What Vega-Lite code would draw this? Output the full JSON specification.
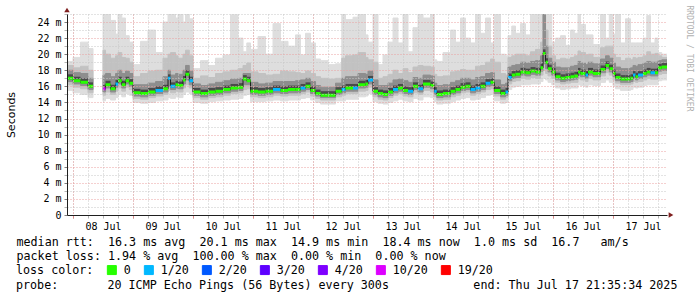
{
  "$schema": "https://vega.github.io/schema/vega-lite/v6.json",
  "width": 600,
  "height": 201,
  "autosize": {"type": "none"},
  "padding": {"left": 67, "top": 14, "right": 30, "bottom": 82},
  "background": "white",
  "config": {"view": {"stroke": null}, "font": "DejaVu Sans Mono"},
  "title": {
    "text": "probe:\u00a0\u00a0\u00a0\u00a0\u00a0\u00a0\u00a020\u00a0ICMP\u00a0Echo\u00a0Pings\u00a0(56\u00a0Bytes)\u00a0every\u00a0300s\u00a0\u00a0\u00a0\u00a0\u00a0\u00a0\u00a0\u00a0\u00a0\u00a0\u00a0\u00a0end:\u00a0Thu\u00a0Jul\u00a017\u00a021:35:34\u00a02025",
    "orient": "bottom", "anchor": "start", "frame": "group", "dx": -51, "offset": 3,
    "font": "DejaVu Sans Mono", "fontSize": 11.7, "fontWeight": "normal", "color": "black", "baseline": "top"
  },
  "data": {"values": [
{"t":"2025-07-07T21:00","t2":"2025-07-08T00:00","s":"a","L":"0","m":17.0,"lo":15.5,"l2":16.2,"l3":16.6,"u3":18.0,"u2":18.6,"hi":19.1},
{"t":"2025-07-08T00:00","t2":"2025-07-08T03:00","s":"a","L":"0","m":16.7,"lo":15.2,"l2":15.9,"l3":16.3,"u3":17.7,"u2":18.3,"hi":19.6},
{"t":"2025-07-08T03:00","t2":"2025-07-08T06:00","s":"a","L":"0","m":16.5,"lo":15.0,"l2":15.7,"l3":16.1,"u3":17.6,"u2":18.5,"hi":21.5},
{"t":"2025-07-08T06:00","t2":"2025-07-08T08:00","s":"a","L":"0","m":16.0,"lo":14.6,"l2":15.2,"l3":15.6,"u3":17.0,"u2":18.0,"hi":20.7},
{"t":"2025-07-08T12:00","t2":"2025-07-08T13:00","s":"b","L":"10/20","m":15.7,"lo":14.2,"l2":14.9,"l3":15.3,"u3":17.4,"u2":20.5,"hi":25},
{"t":"2025-07-08T13:00","t2":"2025-07-08T15:00","s":"b","L":"0","m":16.2,"lo":14.5,"l2":15.3,"l3":15.8,"u3":17.6,"u2":20.0,"hi":25},
{"t":"2025-07-08T15:00","t2":"2025-07-08T17:00","s":"b","L":"0","m":15.7,"lo":14.3,"l2":15.0,"l3":15.3,"u3":17.2,"u2":19.5,"hi":24.2},
{"t":"2025-07-08T17:00","t2":"2025-07-08T18:00","s":"b","L":"1/20","m":16.3,"lo":14.6,"l2":15.4,"l3":15.9,"u3":17.6,"u2":19.8,"hi":22.5},
{"t":"2025-07-08T18:00","t2":"2025-07-08T19:30","s":"b","L":"0","m":16.7,"lo":15.0,"l2":15.8,"l3":16.3,"u3":18.0,"u2":20.2,"hi":25},
{"t":"2025-07-08T19:30","t2":"2025-07-08T21:00","s":"b","L":"0","m":16.2,"lo":14.7,"l2":15.4,"l3":15.8,"u3":17.6,"u2":19.6,"hi":24.5},
{"t":"2025-07-08T21:00","t2":"2025-07-08T22:30","s":"b","L":"0","m":16.7,"lo":15.1,"l2":15.9,"l3":16.3,"u3":17.9,"u2":19.5,"hi":22.3},
{"t":"2025-07-08T22:30","t2":"2025-07-09T00:00","s":"b","L":"0","m":16.4,"lo":14.9,"l2":15.6,"l3":16.0,"u3":17.6,"u2":19.0,"hi":21.5},
{"t":"2025-07-09T00:00","t2":"2025-07-09T03:00","s":"b","L":"0","m":15.2,"lo":14.0,"l2":14.5,"l3":14.8,"u3":16.2,"u2":17.2,"hi":18.7},
{"t":"2025-07-09T03:00","t2":"2025-07-09T06:00","s":"b","L":"0","m":15.1,"lo":13.9,"l2":14.4,"l3":14.7,"u3":16.2,"u2":17.6,"hi":21.6},
{"t":"2025-07-09T06:00","t2":"2025-07-09T09:00","s":"b","L":"0","m":15.3,"lo":14.0,"l2":14.6,"l3":14.9,"u3":16.4,"u2":17.9,"hi":23.0},
{"t":"2025-07-09T09:00","t2":"2025-07-09T12:00","s":"b","L":"1/20","m":15.5,"lo":14.2,"l2":14.8,"l3":15.1,"u3":16.6,"u2":18.0,"hi":20.2},
{"t":"2025-07-09T12:00","t2":"2025-07-09T14:00","s":"b","L":"0","m":15.7,"lo":14.3,"l2":15.0,"l3":15.3,"u3":17.2,"u2":19.5,"hi":24.0},
{"t":"2025-07-09T14:00","t2":"2025-07-09T15:00","s":"b","L":"1/20","m":17.0,"lo":14.6,"l2":15.5,"l3":16.0,"u3":18.0,"u2":20.0,"hi":25},
{"t":"2025-07-09T15:00","t2":"2025-07-09T17:00","s":"b","L":"1/20","m":16.0,"lo":14.5,"l2":15.2,"l3":15.6,"u3":17.4,"u2":20.2,"hi":25},
{"t":"2025-07-09T17:00","t2":"2025-07-09T18:00","s":"b","L":"0","m":16.2,"lo":14.7,"l2":15.4,"l3":15.8,"u3":17.6,"u2":19.8,"hi":24.5},
{"t":"2025-07-09T18:00","t2":"2025-07-09T20:00","s":"b","L":"0","m":16.1,"lo":14.6,"l2":15.3,"l3":15.7,"u3":17.5,"u2":19.5,"hi":25},
{"t":"2025-07-09T20:00","t2":"2025-07-09T21:00","s":"b","L":"0","m":16.8,"lo":15.0,"l2":15.8,"l3":16.3,"u3":18.0,"u2":20.0,"hi":24.0},
{"t":"2025-07-09T21:00","t2":"2025-07-09T22:30","s":"b","L":"0","m":17.5,"lo":15.3,"l2":16.2,"l3":16.8,"u3":18.6,"u2":20.5,"hi":25},
{"t":"2025-07-09T22:30","t2":"2025-07-10T00:00","s":"b","L":"1/20","m":16.7,"lo":15.1,"l2":15.8,"l3":16.2,"u3":17.9,"u2":19.8,"hi":24.4},
{"t":"2025-07-10T00:00","t2":"2025-07-10T03:00","s":"b","L":"0","m":15.3,"lo":14.0,"l2":14.6,"l3":14.9,"u3":16.3,"u2":17.0,"hi":18.2},
{"t":"2025-07-10T03:00","t2":"2025-07-10T06:00","s":"b","L":"0","m":15.1,"lo":13.9,"l2":14.4,"l3":14.7,"u3":16.1,"u2":17.3,"hi":19.2},
{"t":"2025-07-10T06:00","t2":"2025-07-10T09:00","s":"b","L":"0","m":15.3,"lo":14.1,"l2":14.6,"l3":14.9,"u3":16.3,"u2":17.1,"hi":18.6},
{"t":"2025-07-10T09:00","t2":"2025-07-10T12:00","s":"b","L":"0","m":15.4,"lo":14.2,"l2":14.7,"l3":15.0,"u3":16.5,"u2":17.6,"hi":19.5},
{"t":"2025-07-10T12:00","t2":"2025-07-10T15:00","s":"b","L":"0","m":15.6,"lo":14.3,"l2":14.9,"l3":15.2,"u3":16.7,"u2":17.8,"hi":19.9},
{"t":"2025-07-10T15:00","t2":"2025-07-10T18:00","s":"b","L":"0","m":15.8,"lo":14.4,"l2":15.1,"l3":15.4,"u3":16.9,"u2":18.0,"hi":24.9},
{"t":"2025-07-10T18:00","t2":"2025-07-10T20:00","s":"b","L":"0","m":15.9,"lo":14.5,"l2":15.2,"l3":15.5,"u3":17.0,"u2":18.2,"hi":22.0},
{"t":"2025-07-10T20:00","t2":"2025-07-10T21:30","s":"b","L":"0","m":16.9,"lo":14.9,"l2":15.6,"l3":16.2,"u3":17.6,"u2":18.6,"hi":20.3},
{"t":"2025-07-10T21:30","t2":"2025-07-10T23:00","s":"b","L":"0","m":16.7,"lo":15.0,"l2":15.7,"l3":16.2,"u3":17.6,"u2":18.9,"hi":21.4},
{"t":"2025-07-10T23:00","t2":"2025-07-11T02:00","s":"b","L":"0","m":15.4,"lo":14.1,"l2":14.7,"l3":15.0,"u3":16.5,"u2":17.8,"hi":20.6},
{"t":"2025-07-11T02:00","t2":"2025-07-11T05:00","s":"b","L":"0","m":15.3,"lo":14.1,"l2":14.6,"l3":14.9,"u3":16.3,"u2":17.6,"hi":22.2},
{"t":"2025-07-11T05:00","t2":"2025-07-11T08:00","s":"b","L":"0","m":15.4,"lo":14.2,"l2":14.7,"l3":15.0,"u3":16.4,"u2":17.4,"hi":20.0},
{"t":"2025-07-11T08:00","t2":"2025-07-11T11:00","s":"b","L":"1/20","m":15.6,"lo":14.3,"l2":14.9,"l3":15.2,"u3":16.6,"u2":17.5,"hi":23.8},
{"t":"2025-07-11T11:00","t2":"2025-07-11T14:00","s":"b","L":"0","m":15.5,"lo":14.2,"l2":14.8,"l3":15.1,"u3":16.6,"u2":17.9,"hi":21.6},
{"t":"2025-07-11T14:00","t2":"2025-07-11T17:00","s":"b","L":"0","m":15.6,"lo":14.3,"l2":14.9,"l3":15.2,"u3":16.6,"u2":17.8,"hi":21.0},
{"t":"2025-07-11T17:00","t2":"2025-07-11T19:00","s":"b","L":"0","m":15.6,"lo":14.3,"l2":14.9,"l3":15.2,"u3":16.7,"u2":17.7,"hi":22.4},
{"t":"2025-07-11T19:00","t2":"2025-07-11T21:00","s":"b","L":"1/20","m":15.8,"lo":14.5,"l2":15.1,"l3":15.4,"u3":16.8,"u2":17.6,"hi":19.9},
{"t":"2025-07-11T21:00","t2":"2025-07-11T23:00","s":"b","L":"0","m":16.0,"lo":14.6,"l2":15.3,"l3":15.6,"u3":17.0,"u2":17.9,"hi":22.6},
{"t":"2025-07-11T23:00","t2":"2025-07-12T01:00","s":"b","L":"0","m":15.5,"lo":14.3,"l2":14.8,"l3":15.1,"u3":16.6,"u2":17.6,"hi":21.4},
{"t":"2025-07-12T01:00","t2":"2025-07-12T03:00","s":"b","L":"0","m":15.1,"lo":14.0,"l2":14.5,"l3":14.8,"u3":16.1,"u2":17.2,"hi":19.4},
{"t":"2025-07-12T03:00","t2":"2025-07-12T06:00","s":"b","L":"0","m":14.9,"lo":13.8,"l2":14.3,"l3":14.6,"u3":15.9,"u2":17.0,"hi":19.2},
{"t":"2025-07-12T06:00","t2":"2025-07-12T09:00","s":"b","L":"0","m":14.9,"lo":13.8,"l2":14.3,"l3":14.6,"u3":15.9,"u2":16.9,"hi":18.7},
{"t":"2025-07-12T09:00","t2":"2025-07-12T11:30","s":"b","L":"0","m":15.4,"lo":14.2,"l2":14.7,"l3":15.0,"u3":16.4,"u2":17.0,"hi":18.8},
{"t":"2025-07-12T11:30","t2":"2025-07-12T13:00","s":"b","L":"1/20","m":15.6,"lo":14.2,"l2":14.9,"l3":15.2,"u3":17.0,"u2":19.5,"hi":25},
{"t":"2025-07-12T13:00","t2":"2025-07-12T16:00","s":"b","L":"0","m":15.8,"lo":14.4,"l2":15.1,"l3":15.4,"u3":17.2,"u2":19.8,"hi":24.3},
{"t":"2025-07-12T16:00","t2":"2025-07-12T18:00","s":"b","L":"1/20","m":15.8,"lo":14.4,"l2":15.1,"l3":15.4,"u3":17.2,"u2":19.9,"hi":24.6},
{"t":"2025-07-12T18:00","t2":"2025-07-12T21:00","s":"b","L":"0","m":16.2,"lo":14.7,"l2":15.4,"l3":15.8,"u3":17.6,"u2":20.2,"hi":25},
{"t":"2025-07-12T21:00","t2":"2025-07-12T22:00","s":"b","L":"0","m":16.3,"lo":14.8,"l2":15.5,"l3":15.9,"u3":17.5,"u2":19.6,"hi":22.4},
{"t":"2025-07-12T22:00","t2":"2025-07-13T00:00","s":"b","L":"1/20","m":16.8,"lo":15.1,"l2":15.9,"l3":16.3,"u3":17.9,"u2":19.3,"hi":21.5},
{"t":"2025-07-13T00:00","t2":"2025-07-13T02:00","s":"b","L":"0","m":15.4,"lo":14.1,"l2":14.7,"l3":15.0,"u3":16.8,"u2":19.0,"hi":25},
{"t":"2025-07-13T02:00","t2":"2025-07-13T04:00","s":"b","L":"0","m":15.1,"lo":13.9,"l2":14.4,"l3":14.7,"u3":16.1,"u2":17.0,"hi":18.7},
{"t":"2025-07-13T04:00","t2":"2025-07-13T06:00","s":"b","L":"0","m":15.0,"lo":13.8,"l2":14.3,"l3":14.6,"u3":16.1,"u2":17.2,"hi":19.9},
{"t":"2025-07-13T06:00","t2":"2025-07-13T08:00","s":"b","L":"0","m":15.3,"lo":14.0,"l2":14.6,"l3":14.9,"u3":16.4,"u2":17.5,"hi":21.5},
{"t":"2025-07-13T08:00","t2":"2025-07-13T10:00","s":"b","L":"1/20","m":15.6,"lo":14.2,"l2":14.9,"l3":15.2,"u3":16.8,"u2":18.0,"hi":24.5},
{"t":"2025-07-13T10:00","t2":"2025-07-13T12:00","s":"b","L":"0","m":15.8,"lo":14.4,"l2":15.1,"l3":15.4,"u3":16.9,"u2":17.6,"hi":21.4},
{"t":"2025-07-13T12:00","t2":"2025-07-13T14:00","s":"b","L":"0","m":15.5,"lo":14.2,"l2":14.8,"l3":15.1,"u3":16.7,"u2":18.2,"hi":25},
{"t":"2025-07-13T14:00","t2":"2025-07-13T16:00","s":"b","L":"1/20","m":15.4,"lo":14.1,"l2":14.7,"l3":15.0,"u3":16.5,"u2":17.7,"hi":20.3},
{"t":"2025-07-13T16:00","t2":"2025-07-13T18:00","s":"b","L":"0","m":16.0,"lo":14.5,"l2":15.2,"l3":15.6,"u3":17.1,"u2":18.4,"hi":23.3},
{"t":"2025-07-13T18:00","t2":"2025-07-13T20:00","s":"b","L":"1/20","m":15.7,"lo":14.3,"l2":15.0,"l3":15.3,"u3":17.0,"u2":18.6,"hi":25},
{"t":"2025-07-13T20:00","t2":"2025-07-13T23:00","s":"b","L":"0","m":16.3,"lo":14.7,"l2":15.5,"l3":15.9,"u3":17.4,"u2":18.5,"hi":24.5},
{"t":"2025-07-13T23:00","t2":"2025-07-14T00:30","s":"b","L":"0","m":16.1,"lo":14.6,"l2":15.3,"l3":15.7,"u3":17.3,"u2":18.4,"hi":25},
{"t":"2025-07-14T00:30","t2":"2025-07-14T01:30","s":"b","L":"1/20","m":15.4,"lo":14.1,"l2":14.7,"l3":15.0,"u3":16.4,"u2":17.5,"hi":19.3},
{"t":"2025-07-14T01:30","t2":"2025-07-14T04:00","s":"b","L":"0","m":15.0,"lo":13.8,"l2":14.3,"l3":14.6,"u3":16.1,"u2":17.2,"hi":19.1},
{"t":"2025-07-14T04:00","t2":"2025-07-14T07:00","s":"b","L":"0","m":15.1,"lo":13.9,"l2":14.4,"l3":14.7,"u3":16.2,"u2":17.3,"hi":20.2},
{"t":"2025-07-14T07:00","t2":"2025-07-14T09:00","s":"b","L":"0","m":15.4,"lo":14.1,"l2":14.7,"l3":15.0,"u3":16.5,"u2":17.8,"hi":23.0},
{"t":"2025-07-14T09:00","t2":"2025-07-14T11:00","s":"b","L":"0","m":15.6,"lo":14.3,"l2":14.9,"l3":15.2,"u3":16.7,"u2":17.9,"hi":21.5},
{"t":"2025-07-14T11:00","t2":"2025-07-14T13:00","s":"b","L":"0","m":15.9,"lo":14.5,"l2":15.2,"l3":15.5,"u3":17.0,"u2":18.1,"hi":24.5},
{"t":"2025-07-14T13:00","t2":"2025-07-14T15:00","s":"b","L":"0","m":16.0,"lo":14.6,"l2":15.3,"l3":15.6,"u3":17.0,"u2":18.0,"hi":22.0},
{"t":"2025-07-14T15:00","t2":"2025-07-14T17:00","s":"b","L":"1/20","m":15.6,"lo":14.3,"l2":14.9,"l3":15.2,"u3":16.8,"u2":18.0,"hi":21.4},
{"t":"2025-07-14T17:00","t2":"2025-07-14T19:00","s":"b","L":"1/20","m":15.8,"lo":14.4,"l2":15.1,"l3":15.4,"u3":17.1,"u2":18.5,"hi":25},
{"t":"2025-07-14T19:00","t2":"2025-07-14T21:00","s":"b","L":"0","m":16.0,"lo":14.6,"l2":15.3,"l3":15.6,"u3":17.2,"u2":18.6,"hi":22.6},
{"t":"2025-07-14T21:00","t2":"2025-07-14T23:00","s":"b","L":"1/20","m":16.4,"lo":14.9,"l2":15.6,"l3":16.0,"u3":17.6,"u2":19.0,"hi":24.5},
{"t":"2025-07-14T23:00","t2":"2025-07-15T00:30","s":"b","L":"0","m":16.5,"lo":15.0,"l2":15.7,"l3":16.1,"u3":17.7,"u2":19.4,"hi":21.4},
{"t":"2025-07-15T00:30","t2":"2025-07-15T03:00","s":"b","L":"0","m":15.5,"lo":14.2,"l2":14.8,"l3":15.1,"u3":16.8,"u2":19.0,"hi":25},
{"t":"2025-07-15T03:00","t2":"2025-07-15T05:00","s":"b","L":"0","m":15.1,"lo":13.9,"l2":14.4,"l3":14.7,"u3":16.2,"u2":17.6,"hi":20.0},
{"t":"2025-07-15T05:00","t2":"2025-07-15T06:00","s":"b","L":"1/20","m":15.3,"lo":14.0,"l2":14.6,"l3":14.9,"u3":16.4,"u2":17.4,"hi":19.8},
{"t":"2025-07-15T06:00","t2":"2025-07-15T07:30","s":"b","L":"1/20","m":17.1,"lo":15.6,"l2":16.3,"l3":16.7,"u3":18.4,"u2":19.6,"hi":22.3},
{"t":"2025-07-15T07:30","t2":"2025-07-15T09:00","s":"b","L":"0","m":17.4,"lo":15.9,"l2":16.6,"l3":17.0,"u3":18.6,"u2":19.8,"hi":23.5},
{"t":"2025-07-15T09:00","t2":"2025-07-15T11:00","s":"b","L":"0","m":17.5,"lo":16.0,"l2":16.7,"l3":17.1,"u3":18.7,"u2":20.0,"hi":22.6},
{"t":"2025-07-15T11:00","t2":"2025-07-15T13:00","s":"b","L":"0","m":17.8,"lo":16.2,"l2":17.0,"l3":17.4,"u3":19.0,"u2":20.0,"hi":23.8},
{"t":"2025-07-15T13:00","t2":"2025-07-15T15:00","s":"b","L":"0","m":17.7,"lo":16.2,"l2":16.9,"l3":17.3,"u3":18.9,"u2":19.8,"hi":22.4},
{"t":"2025-07-15T15:00","t2":"2025-07-15T17:00","s":"b","L":"0","m":17.9,"lo":16.3,"l2":17.1,"l3":17.5,"u3":19.1,"u2":20.3,"hi":25},
{"t":"2025-07-15T17:00","t2":"2025-07-15T19:00","s":"b","L":"0","m":17.8,"lo":16.3,"l2":17.0,"l3":17.4,"u3":19.2,"u2":20.6,"hi":25},
{"t":"2025-07-15T19:00","t2":"2025-07-15T20:00","s":"b","L":"0","m":18.3,"lo":16.6,"l2":17.4,"l3":17.9,"u3":19.8,"u2":21.5,"hi":25},
{"t":"2025-07-15T20:00","t2":"2025-07-15T21:00","s":"b","L":"0","m":20.1,"lo":17.0,"l2":18.0,"l3":18.8,"u3":25,"u2":25,"hi":25},
{"t":"2025-07-15T21:00","t2":"2025-07-15T22:00","s":"b","L":"0","m":19.0,"lo":16.8,"l2":17.6,"l3":18.2,"u3":21.0,"u2":23.0,"hi":25},
{"t":"2025-07-15T22:00","t2":"2025-07-15T23:30","s":"b","L":"0","m":18.2,"lo":16.5,"l2":17.3,"l3":17.8,"u3":19.5,"u2":21.0,"hi":25},
{"t":"2025-07-15T23:30","t2":"2025-07-16T01:00","s":"b","L":"0","m":17.8,"lo":16.2,"l2":17.0,"l3":17.4,"u3":19.0,"u2":19.8,"hi":21.5},
{"t":"2025-07-16T01:00","t2":"2025-07-16T03:00","s":"b","L":"0","m":17.2,"lo":15.8,"l2":16.5,"l3":16.8,"u3":18.4,"u2":19.3,"hi":22.0},
{"t":"2025-07-16T03:00","t2":"2025-07-16T05:00","s":"b","L":"0","m":17.0,"lo":15.6,"l2":16.3,"l3":16.6,"u3":18.3,"u2":19.5,"hi":22.3},
{"t":"2025-07-16T05:00","t2":"2025-07-16T07:00","s":"b","L":"0","m":17.1,"lo":15.7,"l2":16.4,"l3":16.7,"u3":18.3,"u2":19.4,"hi":21.1},
{"t":"2025-07-16T07:00","t2":"2025-07-16T08:30","s":"b","L":"0","m":17.2,"lo":15.8,"l2":16.5,"l3":16.8,"u3":18.5,"u2":19.6,"hi":23.0},
{"t":"2025-07-16T08:30","t2":"2025-07-16T10:00","s":"b","L":"0","m":17.3,"lo":15.8,"l2":16.5,"l3":16.9,"u3":18.6,"u2":19.8,"hi":22.6},
{"t":"2025-07-16T10:00","t2":"2025-07-16T11:00","s":"b","L":"0","m":17.8,"lo":16.2,"l2":17.0,"l3":17.4,"u3":19.1,"u2":20.4,"hi":25},
{"t":"2025-07-16T11:00","t2":"2025-07-16T13:00","s":"b","L":"0","m":17.6,"lo":16.1,"l2":16.8,"l3":17.2,"u3":18.9,"u2":20.2,"hi":23.7},
{"t":"2025-07-16T13:00","t2":"2025-07-16T14:00","s":"b","L":"1/20","m":17.4,"lo":15.9,"l2":16.6,"l3":17.0,"u3":18.7,"u2":19.9,"hi":22.4},
{"t":"2025-07-16T14:00","t2":"2025-07-16T16:00","s":"b","L":"0","m":17.8,"lo":16.2,"l2":17.0,"l3":17.4,"u3":19.0,"u2":20.0,"hi":22.4},
{"t":"2025-07-16T16:00","t2":"2025-07-16T19:00","s":"b","L":"0","m":17.6,"lo":16.1,"l2":16.8,"l3":17.2,"u3":18.8,"u2":19.6,"hi":21.2},
{"t":"2025-07-16T19:00","t2":"2025-07-16T21:00","s":"b","L":"0","m":18.1,"lo":16.5,"l2":17.3,"l3":17.7,"u3":19.4,"u2":20.8,"hi":25},
{"t":"2025-07-16T21:00","t2":"2025-07-16T22:30","s":"b","L":"0","m":18.6,"lo":16.8,"l2":17.7,"l3":18.2,"u3":19.8,"u2":21.0,"hi":22.0},
{"t":"2025-07-16T22:30","t2":"2025-07-17T00:00","s":"b","L":"0","m":18.2,"lo":16.5,"l2":17.4,"l3":17.8,"u3":19.5,"u2":21.0,"hi":25},
{"t":"2025-07-17T00:00","t2":"2025-07-17T01:00","s":"b","L":"0","m":17.6,"lo":16.1,"l2":16.8,"l3":17.2,"u3":18.9,"u2":20.0,"hi":22.5},
{"t":"2025-07-17T01:00","t2":"2025-07-17T03:00","s":"b","L":"0","m":17.1,"lo":15.7,"l2":16.4,"l3":16.7,"u3":18.4,"u2":19.6,"hi":25},
{"t":"2025-07-17T03:00","t2":"2025-07-17T05:00","s":"b","L":"0","m":16.9,"lo":15.5,"l2":16.2,"l3":16.5,"u3":18.2,"u2":19.2,"hi":21.4},
{"t":"2025-07-17T05:00","t2":"2025-07-17T07:00","s":"b","L":"0","m":16.9,"lo":15.5,"l2":16.2,"l3":16.5,"u3":18.2,"u2":19.5,"hi":24.4},
{"t":"2025-07-17T07:00","t2":"2025-07-17T08:00","s":"b","L":"0","m":17.0,"lo":15.6,"l2":16.3,"l3":16.6,"u3":18.3,"u2":19.3,"hi":21.4},
{"t":"2025-07-17T08:00","t2":"2025-07-17T09:00","s":"b","L":"1/20","m":17.4,"lo":15.9,"l2":16.6,"l3":17.0,"u3":18.6,"u2":19.6,"hi":21.4},
{"t":"2025-07-17T09:00","t2":"2025-07-17T10:00","s":"b","L":"0","m":17.2,"lo":15.8,"l2":16.5,"l3":16.8,"u3":18.5,"u2":19.5,"hi":21.4},
{"t":"2025-07-17T10:00","t2":"2025-07-17T12:00","s":"b","L":"1/20","m":17.4,"lo":15.9,"l2":16.6,"l3":17.0,"u3":18.7,"u2":19.6,"hi":21.4},
{"t":"2025-07-17T12:00","t2":"2025-07-17T13:30","s":"b","L":"0","m":17.6,"lo":16.1,"l2":16.8,"l3":17.2,"u3":18.9,"u2":19.8,"hi":22.0},
{"t":"2025-07-17T13:30","t2":"2025-07-17T15:00","s":"b","L":"0","m":17.8,"lo":16.2,"l2":17.0,"l3":17.4,"u3":19.1,"u2":20.3,"hi":24.8},
{"t":"2025-07-17T15:00","t2":"2025-07-17T16:48","s":"b","L":"1/20","m":17.7,"lo":16.2,"l2":16.9,"l3":17.3,"u3":19.0,"u2":20.0,"hi":21.4},
{"t":"2025-07-17T16:48","t2":"2025-07-17T18:00","s":"b","L":"0","m":17.7,"lo":16.2,"l2":16.9,"l3":17.3,"u3":19.0,"u2":20.1,"hi":22.0},
{"t":"2025-07-17T18:00","t2":"2025-07-17T19:30","s":"b","L":"0","m":18.3,"lo":16.7,"l2":17.5,"l3":17.9,"u3":19.2,"u2":19.8,"hi":20.2},
{"t":"2025-07-17T19:30","t2":"2025-07-17T21:35:34","s":"b","L":"0","m":18.4,"lo":16.8,"l2":17.6,"l3":18.0,"u3":19.3,"u2":19.6,"hi":20.0}
  ]},
  "layer": [
    {
      "mark": {"type": "rect", "fill": "#dedede", "stroke": "#dedede", "strokeWidth": 1, "clip": true},
      "encoding": {
        "x": {
          "field": "t", "type": "temporal",
          "scale": {"domain": [
            {"year": 2025, "month": 7, "date": 7, "hours": 21, "minutes": 35, "seconds": 34},
            {"year": 2025, "month": 7, "date": 17, "hours": 21, "minutes": 35, "seconds": 34}
          ]},
          "axis": {
            "orient": "bottom", "tickCount": 40, "labels": false, "domain": false, "title": null,
            "ticks": true, "tickSize": 3, "tickColor": "#b4b4b4",
            "grid": true, "gridColor": "#c6c6c6", "gridDash": [1, 2], "zindex": 1
          }
        },
        "x2": {"field": "t2"},
        "y": {
          "field": "lo", "type": "quantitative",
          "scale": {"domain": [0, 25], "nice": false},
          "axis": {
            "orient": "left", "values": [1,3,5,7,9,11,13,15,17,19,21,23,25],
            "labels": false, "domain": false, "title": null,
            "ticks": true, "tickSize": 3, "tickColor": "#b4b4b4",
            "grid": true, "gridColor": "#c6c6c6", "gridDash": [1, 2], "zindex": 1
          }
        },
        "y2": {"field": "hi"}
      }
    },
    {
      "mark": {"type": "rect", "fill": "#c2c2c2", "stroke": "#c2c2c2", "strokeWidth": 1, "clip": true},
      "encoding": {
        "x": {
          "field": "t", "type": "temporal",
          "scale": {"domain": [
            {"year": 2025, "month": 7, "date": 7, "hours": 21, "minutes": 35, "seconds": 34},
            {"year": 2025, "month": 7, "date": 17, "hours": 21, "minutes": 35, "seconds": 34}
          ]},
          "axis": {
            "orient": "bottom", "tickCount": 10, "format": "%d %b", "labelOffset": 30,
            "labelFlush": false, "labelOverlap": false,
            "labelFont": "DejaVu Sans Mono", "labelFontSize": 10, "labelColor": "black", "labelPadding": 3,
            "tickSize": 3, "tickColor": "#e08a8a",
            "grid": true, "gridColor": "#eaa0a0", "gridDash": [1, 2],
            "domainColor": "#1f1f1f", "zindex": 1,
            "title": [
              "median\u00a0rtt:\u00a0\u00a016.3\u00a0ms\u00a0avg\u00a0\u00a020.1\u00a0ms\u00a0max\u00a0\u00a014.9\u00a0ms\u00a0min\u00a0\u00a018.4\u00a0ms\u00a0now\u00a0\u00a01.0\u00a0ms\u00a0sd\u00a0\u00a016.7\u00a0\u00a0\u00a0am/s",
              "packet\u00a0loss:\u00a01.94\u00a0%\u00a0avg\u00a0\u00a0100.00\u00a0%\u00a0max\u00a0\u00a00.00\u00a0%\u00a0min\u00a0\u00a00.00\u00a0%\u00a0now"
            ],
            "titleFont": "DejaVu Sans Mono", "titleFontSize": 11.7, "titleFontWeight": "normal", "titleColor": "black",
            "titleAnchor": "start", "titleAlign": "left", "titleX": -51, "titleLineHeight": 14,
            "titleBaseline": "top", "titlePadding": 5
          }
        },
        "x2": {"field": "t2"},
        "y": {
          "field": "l2", "type": "quantitative",
          "scale": {"domain": [0, 25], "nice": false},
          "axis": {
            "orient": "left",
            "values": [0,2,4,6,8,10,12,14,16,18,20,22,24],
            "labelExpr": "datum.value == 0 ? '0\u00a0\u00a0' : datum.value + ' m'",
            "labelFont": "DejaVu Sans Mono", "labelFontSize": 10, "labelColor": "black", "labelPadding": 3,
            "tickSize": 3, "tickColor": "#808080",
            "grid": true, "gridColor": "#eaa0a0", "gridDash": [1, 2],
            "domainColor": "#1f1f1f", "zindex": 1,
            "title": "Seconds",
            "titleFont": "DejaVu Sans", "titleFontSize": 11, "titleFontWeight": "normal", "titleColor": "black",
            "titlePadding": 20
          }
        },
        "y2": {"field": "u2"}
      }
    },
    {
      "mark": {"type": "rect", "fill": "#8e8e8e", "stroke": "#8e8e8e", "strokeWidth": 1, "clip": true},
      "encoding": {
        "x": {"field": "t", "type": "temporal", "axis": null},
        "x2": {"field": "t2"},
        "y": {"field": "l3", "type": "quantitative", "scale": {"domain": [0, 25], "nice": false}, "axis": null},
        "y2": {"field": "u3"}
      }
    },
    {
      "mark": {"type": "rule", "color": "#4a4a4a", "strokeWidth": 5, "strokeCap": "butt", "yOffset": -1.5, "clip": true},
      "encoding": {
        "x": {"field": "t", "type": "temporal", "axis": null},
        "x2": {"field": "t2"},
        "y": {"field": "m", "type": "quantitative", "scale": {"domain": [0, 25], "nice": false}, "axis": null}
      }
    },
    {
      "mark": {"type": "line", "interpolate": "step-after", "color": "#202020", "strokeWidth": 1, "clip": true},
      "encoding": {
        "x": {"field": "t", "type": "temporal", "axis": null},
        "y": {"field": "m", "type": "quantitative", "scale": {"domain": [0, 25], "nice": false}, "axis": null},
        "detail": {"field": "s"}
      }
    },
    {
      "mark": {"type": "rect", "strokeWidth": 3, "clip": true},
      "encoding": {
        "x": {"field": "t", "type": "temporal", "axis": null},
        "x2": {"field": "t2"},
        "y": {
          "field": "m", "type": "quantitative", "scale": {"domain": [0, 25], "nice": false},
          "axis": {
            "orient": "right", "domain": false, "ticks": false, "labels": false, "grid": false,
            "title": "RRDTOOL\u00a0/\u00a0TOBI\u00a0OETIKER",
            "titleAngle": 90, "titleX": 21, "titleY": -9, "titleAlign": "left", "titleBaseline": "middle",
            "titleFont": "DejaVu Sans Mono", "titleFontSize": 8, "titleFontWeight": "normal", "titleColor": "#b0b0b0"
          }
        },
        "y2": {"field": "m"},
        "stroke": {
          "field": "L", "type": "nominal",
          "scale": {
            "domain": ["0", "1/20", "2/20", "3/20", "4/20", "10/20", "19/20"],
            "range": ["#26ff00", "#00b8ff", "#0059ff", "#5e00ff", "#7e00ff", "#dd00ff", "#ff0000"]
          },
          "legend": null
        },
        "fill": {
          "field": "L", "type": "nominal",
          "scale": {
            "domain": ["0", "1/20", "2/20", "3/20", "4/20", "10/20", "19/20"],
            "range": ["#26ff00", "#00b8ff", "#0059ff", "#5e00ff", "#7e00ff", "#dd00ff", "#ff0000"]
          },
          "legend": {
            "orient": "none", "legendX": -51, "legendY": 250, "direction": "horizontal",
            "padding": 0,
            "title": "loss\u00a0color:", "titleOrient": "left", "titleAnchor": "middle", "titleBaseline": "middle",
            "titleFont": "DejaVu Sans Mono", "titleFontSize": 11.7, "titleFontWeight": "normal", "titleColor": "black",
            "titlePadding": 12,
            "labelFont": "DejaVu Sans Mono", "labelFontSize": 11.7, "labelColor": "black", "labelOffset": 6,
            "symbolType": "square", "symbolSize": 81, "symbolStrokeColor": "black", "symbolStrokeWidth": 1,
            "symbolOpacity": 1,
            "columnPadding": 11
          }
        }
      }
    },
    {
      "data": {"values": [{}]},
      "mark": {"type": "point", "shape": "triangle-right", "filled": true, "color": "#7f1f1f", "opacity": 1, "size": 30, "xOffset": 4, "clip": false},
      "encoding": {
        "x": {"datum": {"year": 2025, "month": 7, "date": 17, "hours": 21, "minutes": 35, "seconds": 34}, "type": "temporal", "axis": null},
        "y": {"datum": 0, "type": "quantitative", "scale": {"domain": [0, 25], "nice": false}, "axis": null}
      }
    },
    {
      "data": {"values": [{}]},
      "mark": {"type": "point", "shape": "triangle-up", "filled": true, "color": "#7f1f1f", "opacity": 1, "size": 30, "yOffset": -4, "clip": false},
      "encoding": {
        "x": {"datum": {"year": 2025, "month": 7, "date": 7, "hours": 21, "minutes": 35, "seconds": 34}, "type": "temporal", "axis": null},
        "y": {"datum": 25, "type": "quantitative", "scale": {"domain": [0, 25], "nice": false}, "axis": null}
      }
    }
  ],
  "resolve": {"axis": {"x": "independent", "y": "independent"}}
}
